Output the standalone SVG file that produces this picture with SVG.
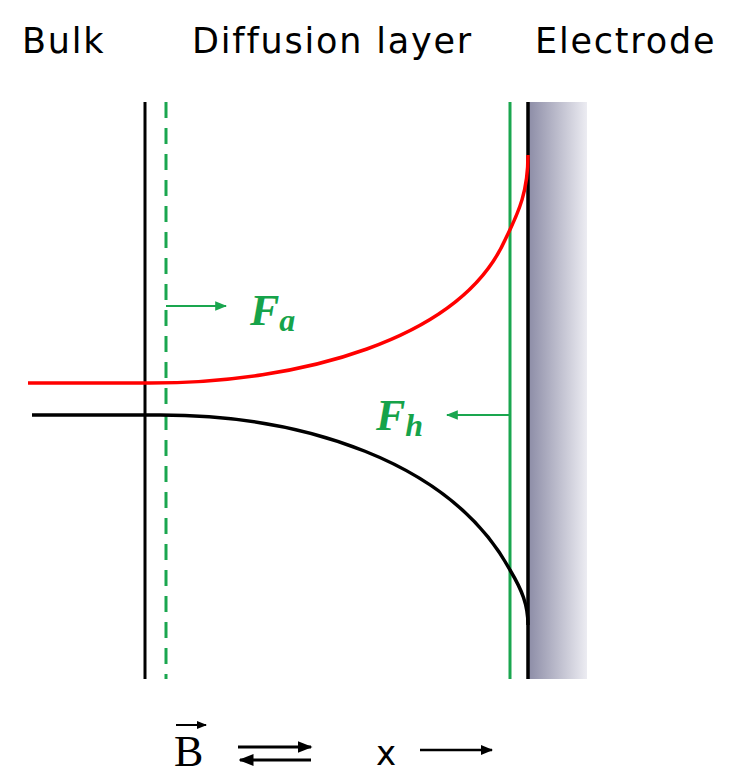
<svg xmlns="http://www.w3.org/2000/svg" width="733" height="779" viewBox="0 0 733 779">
<style>
.t{font-family:"DejaVu Sans",sans-serif;font-size:35px;letter-spacing:1.8px;fill:#000}
.f{font-family:"Liberation Serif",serif;font-weight:bold;font-style:italic;fill:#16a34a}
.g{stroke:#1aa64f;fill:none}
.k{stroke:#000;fill:none}
</style>
<defs>
<linearGradient id="el" x1="0" x2="1" y1="0" y2="0"><stop offset="0" stop-color="#8c8ca6"/><stop offset="1" stop-color="#ececf2"/></linearGradient>
<marker id="ag" viewBox="0 0 10 10" refX="9" refY="5" markerWidth="6" markerHeight="6" orient="auto"><path d="M0,1L10,5L0,9z" fill="#1aa64f"/></marker>
<marker id="ak" viewBox="0 0 10 10" refX="9" refY="5" markerWidth="5" markerHeight="5" orient="auto"><path d="M0,1L10,5L0,9z" fill="#000"/></marker>
</defs>
<g id="titles">
<text class="t" x="22" y="53">Bulk</text>
<text class="t" x="192" y="53">Diffusion layer</text>
<text class="t" x="535" y="53">Electrode</text>
</g>
<g id="electrode"><rect x="528" y="102" width="59" height="577" fill="url(#el)"/></g>
<g id="connectors">
<line class="k" x1="145" y1="102" x2="145" y2="679" stroke-width="3"/>
<line class="g" x1="166" y1="102" x2="166" y2="679" stroke-width="3" stroke-dasharray="16,10"/>
<line class="g" x1="510" y1="102" x2="510" y2="679" stroke-width="3"/>
<line class="k" x1="528" y1="102" x2="528" y2="679" stroke-width="3.5"/>
<path d="M28,383 L150,383 C300,383 460,340 505,240 C520,210 528,190 528,155" stroke="#f00" stroke-width="3.5" fill="none"/>
<path d="M32,415 L160,415 C300,415 450,460 510,570 C522,590 528,605 528,625" class="k" stroke-width="3.5"/>
<line class="g" x1="166" y1="306" x2="226" y2="306" stroke-width="2" marker-end="url(#ag)"/>
<line class="g" x1="510" y1="415" x2="447" y2="415" stroke-width="2" marker-end="url(#ag)"/>
<line class="k" x1="238" y1="747" x2="311" y2="747" stroke-width="3" marker-end="url(#ak)"/>
<line class="k" x1="311" y1="760" x2="240" y2="760" stroke-width="3" marker-end="url(#ak)"/>
<line class="k" x1="420" y1="750" x2="492" y2="750" stroke-width="2.5" marker-end="url(#ak)"/>
<line class="k" x1="176" y1="725" x2="206" y2="725" stroke-width="2" marker-end="url(#ak)"/>
</g>
<g id="labels">
<text class="f" x="250" y="325" font-size="44">F<tspan font-size="32" dy="6">a</tspan></text>
<text class="f" x="376" y="430" font-size="44">F<tspan font-size="32" dy="6">h</tspan></text>
<text x="174" y="766" font-family="Liberation Serif,serif" font-size="44">B</text>
<text x="376" y="765" font-family="DejaVu Sans,sans-serif" font-size="34">x</text>
</g>
</svg>
